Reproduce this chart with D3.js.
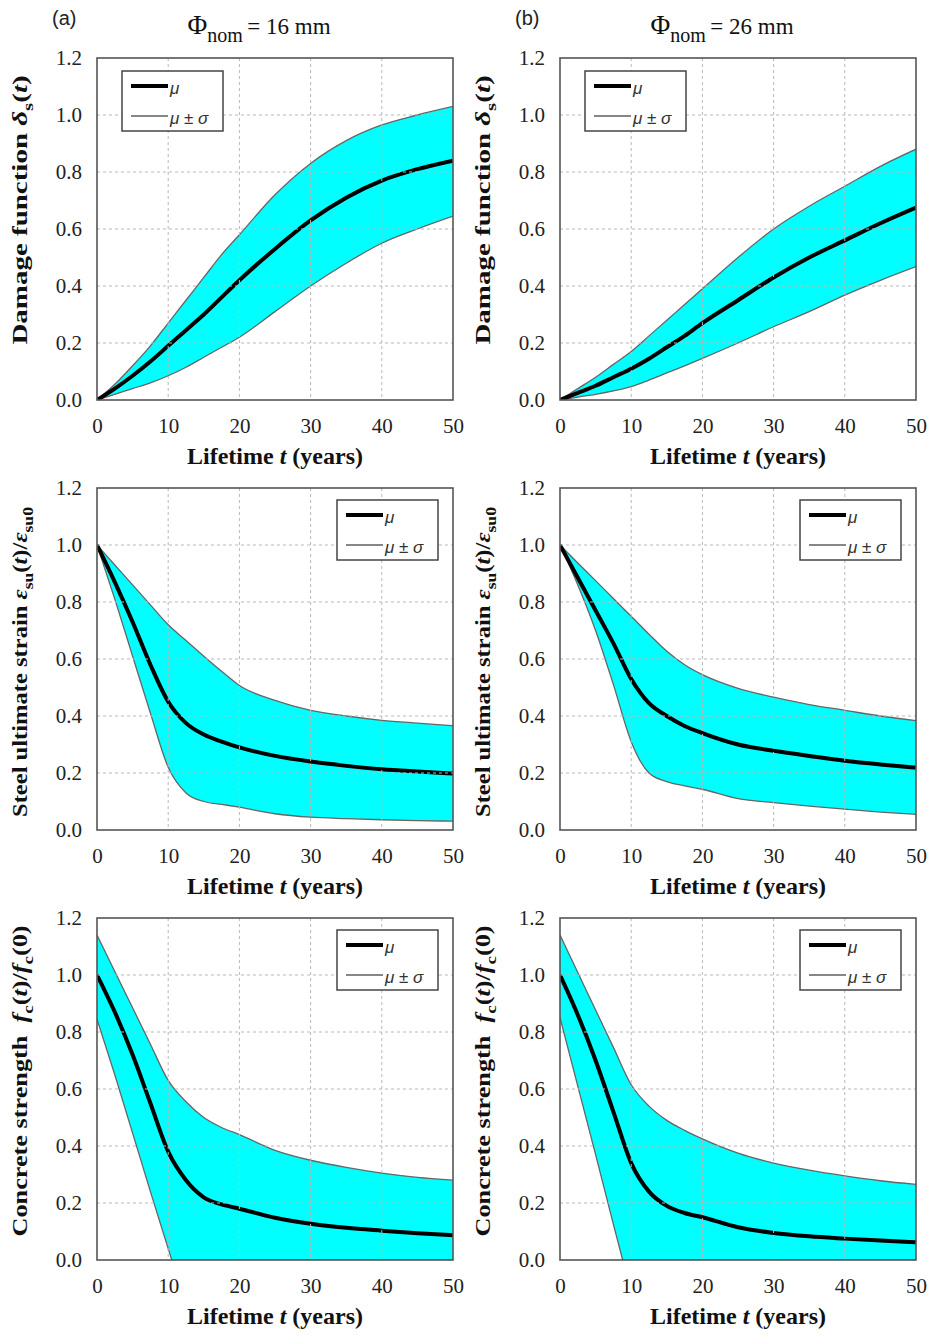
<!DOCTYPE html>
<html>
<head>
<meta charset="utf-8">
<script src="https://cdn.jsdelivr.net/npm/d3@7/dist/d3.min.js"></script>
<style>
  body { margin: 0; background: #fff; }
  svg { display: block; }
</style>
</head>
<body>
<svg id="chart" width="931" height="1336"></svg>
<script>
// ---- data ----
var years = [0, 2.5, 5, 7.5, 10, 12.5, 15, 17.5, 20, 25, 30, 35, 40, 45, 50];

// damage function, 16 mm / 26 mm
var dmg16Mean  = [0, 0.04, 0.085, 0.135, 0.19, 0.245, 0.30, 0.36, 0.42, 0.53, 0.63, 0.71, 0.77, 0.81, 0.84];
var dmg16Upper = [0, 0.055, 0.12, 0.19, 0.27, 0.35, 0.43, 0.51, 0.58, 0.72, 0.83, 0.91, 0.965, 1.00, 1.03];
var dmg16Lower = [0, 0.02, 0.04, 0.06, 0.085, 0.115, 0.15, 0.185, 0.22, 0.31, 0.40, 0.48, 0.55, 0.60, 0.645];
var dmg26Mean  = [0, 0.025, 0.05, 0.08, 0.11, 0.145, 0.185, 0.225, 0.27, 0.35, 0.43, 0.50, 0.56, 0.62, 0.675];
var dmg26Upper = [0, 0.04, 0.08, 0.125, 0.17, 0.225, 0.28, 0.335, 0.39, 0.50, 0.60, 0.68, 0.75, 0.82, 0.88];
var dmg26Lower = [0, 0.01, 0.02, 0.032, 0.047, 0.07, 0.095, 0.12, 0.146, 0.20, 0.257, 0.31, 0.368, 0.42, 0.468];

// steel ultimate strain ratio
var str16Mean  = [1.0, 0.87, 0.73, 0.58, 0.45, 0.375, 0.335, 0.31, 0.29, 0.26, 0.24, 0.225, 0.213, 0.205, 0.198];
var str16Upper = [1.0, 0.93, 0.86, 0.79, 0.72, 0.665, 0.61, 0.557, 0.507, 0.455, 0.42, 0.40, 0.385, 0.375, 0.366];
var str16Lower = [1.0, 0.81, 0.61, 0.41, 0.22, 0.13, 0.10, 0.09, 0.08, 0.057, 0.045, 0.04, 0.036, 0.033, 0.031];
var str26Mean  = [1.0, 0.885, 0.77, 0.655, 0.53, 0.445, 0.40, 0.365, 0.34, 0.30, 0.278, 0.26, 0.243, 0.23, 0.219];
var str26Upper = [1.0, 0.937, 0.875, 0.812, 0.75, 0.687, 0.627, 0.58, 0.545, 0.497, 0.466, 0.44, 0.42, 0.40, 0.384];
var str26Lower = [1.0, 0.86, 0.70, 0.51, 0.31, 0.20, 0.17, 0.155, 0.143, 0.11, 0.096, 0.084, 0.073, 0.063, 0.055];

// concrete strength ratio (lower bound drops to zero, own time points)
var conc16Mean  = [1.0, 0.87, 0.72, 0.55, 0.38, 0.28, 0.22, 0.195, 0.18, 0.148, 0.127, 0.113, 0.103, 0.094, 0.087];
var conc16Upper = [1.14, 1.012, 0.885, 0.757, 0.63, 0.555, 0.50, 0.465, 0.44, 0.385, 0.35, 0.325, 0.305, 0.29, 0.28];
var conc16LowerYears = [0, 2.5, 5, 7.5, 10.5, 50];
var conc16Lower = [0.845, 0.65, 0.445, 0.24, 0, 0];
var conc26Mean  = [1.0, 0.86, 0.70, 0.52, 0.34, 0.24, 0.19, 0.165, 0.15, 0.115, 0.095, 0.083, 0.075, 0.068, 0.062];
var conc26Upper = [1.14, 1.009, 0.877, 0.746, 0.615, 0.54, 0.49, 0.455, 0.425, 0.375, 0.34, 0.315, 0.295, 0.278, 0.265];
var conc26LowerYears = [0, 2.5, 5, 7.5, 8.8, 50];
var conc26Lower = [0.85, 0.61, 0.37, 0.125, 0, 0];

var xTicks = [0, 10, 20, 30, 40, 50];
var yTicks = [0, 0.2, 0.4, 0.6, 0.8, 1.0, 1.2];
var columnTags = ["(a)", "(b)"];
var columnSizes = ["16 mm", "26 mm"];

// ---- layout ----
var svg = d3.select("#chart");
var colX = [97, 560];
var rowY = [58, 488, 918];
var pw = 356, ph = 342;
var serif = "'Liberation Serif', 'Times New Roman', serif";
var sans = "'Liberation Sans', Arial, sans-serif";

var yTitles = [
  [{t: "Damage function "}, {t: "δ", i: 1}, {t: "s", sub: 1}, {t: "("}, {t: "t", i: 1}, {t: ")"}],
  [{t: "Steel ultimate strain "}, {t: "ε", i: 1}, {t: "su", sub: 1}, {t: "("}, {t: "t", i: 1}, {t: ")/"},
   {t: "ε", i: 1}, {t: "su0", sub: 1}],
  [{t: "Concrete strength\u00a0\u00a0"}, {t: "f", i: 1}, {t: "c", sub: 1}, {t: "("}, {t: "t", i: 1}, {t: ")/"},
   {t: "f", i: 1}, {t: "c", sub: 1}, {t: "(0)"}]
];
var yTitleShift = [-19, 3, -8];
var yTitleStretch = [1.38, 1.17, 1.25];

var panels = [
  {row: 0, col: 0, mean: dmg16Mean, upper: dmg16Upper, lower: dmg16Lower, lowerYears: years, legend: "left"},
  {row: 0, col: 1, mean: dmg26Mean, upper: dmg26Upper, lower: dmg26Lower, lowerYears: years, legend: "left"},
  {row: 1, col: 0, mean: str16Mean, upper: str16Upper, lower: str16Lower, lowerYears: years, legend: "right"},
  {row: 1, col: 1, mean: str26Mean, upper: str26Upper, lower: str26Lower, lowerYears: years, legend: "right"},
  {row: 2, col: 0, mean: conc16Mean, upper: conc16Upper, lower: conc16Lower, lowerYears: conc16LowerYears, legend: "right", linear: true},
  {row: 2, col: 1, mean: conc26Mean, upper: conc26Upper, lower: conc26Lower, lowerYears: conc26LowerYears, legend: "right", linear: true}
];

function addParts(text, parts, size) {
  var down = false, shift = size * 0.28;
  parts.forEach(function(p) {
    var ts = text.append("tspan").text(p.t);
    if (p.i) ts.attr("font-style", "italic");
    if (p.sub) {
      ts.attr("font-size", size * 0.72);
      if (!down) { ts.attr("dy", shift); down = true; }
    } else if (down) {
      ts.attr("dy", -shift); down = false;
    }
  });
}

// column headers
columnTags.forEach(function(tag, c) {
  svg.append("text").attr("x", colX[c] - 45).attr("y", 25)
    .attr("font-family", sans).attr("font-size", 20).attr("fill", "#222").text(tag);
  var t = svg.append("text").attr("x", colX[c] + pw / 2 - 16).attr("y", 34)
    .attr("text-anchor", "middle").attr("font-family", serif).attr("font-size", 23).attr("fill", "#111");
  t.append("tspan").attr("font-size", 27).text("Φ");
  t.append("tspan").attr("font-size", 20).attr("dy", 8).text("nom");
  t.append("tspan").attr("dy", -8).text("\u2009= " + columnSizes[c]);
});

panels.forEach(function(p, idx) {
  var x0 = colX[p.col], y0 = rowY[p.row];
  var g = svg.append("g").attr("transform", "translate(" + x0 + "," + y0 + ")");
  var x = d3.scaleLinear().domain([0, 50]).range([0, pw]);
  var y = d3.scaleLinear().domain([0, 1.2]).range([ph, 0]);

  var clipId = "clip" + idx;
  g.append("clipPath").attr("id", clipId).append("rect").attr("width", pw).attr("height", ph);
  var plot = g.append("g").attr("clip-path", "url(#" + clipId + ")");

  var up = years.map(function(t, i) { return [t, p.upper[i]]; });
  var mu = years.map(function(t, i) { return [t, p.mean[i]]; });
  var lo = p.lowerYears.map(function(t, i) { return [t, p.lower[i]]; });
  var smooth = d3.curveMonotoneX;
  var loCurve = p.linear ? d3.curveLinear : smooth;

  // band: cyan under the upper bound, then white under the lower bound
  plot.append("path").datum(up)
    .attr("d", d3.area().x(function(d) { return x(d[0]); }).y0(y(0)).y1(function(d) { return y(d[1]); }).curve(smooth))
    .attr("fill", "#00ffff");
  plot.append("path").datum(lo)
    .attr("d", d3.area().x(function(d) { return x(d[0]); }).y0(y(0) + 2).y1(function(d) { return y(d[1]); }).curve(loCurve))
    .attr("fill", "#fff");

  // grid
  var grid = g.append("g").attr("stroke", "#b8b8b8").attr("stroke-width", 1).attr("stroke-dasharray", "3,3");
  grid.selectAll(".gx").data(xTicks.slice(1, -1)).enter().append("line")
    .attr("x1", function(d) { return x(d); }).attr("x2", function(d) { return x(d); })
    .attr("y1", 0).attr("y2", ph);
  grid.selectAll(".gy").data(yTicks.slice(1, -1)).enter().append("line")
    .attr("y1", function(d) { return y(d); }).attr("y2", function(d) { return y(d); })
    .attr("x1", 0).attr("x2", pw);

  // curves
  var line = d3.line().x(function(d) { return x(d[0]); }).y(function(d) { return y(d[1]); });
  plot.append("path").datum(up).attr("d", line.curve(smooth)).attr("fill", "none")
    .attr("stroke", "#666").attr("stroke-width", 1.3);
  plot.append("path").datum(lo).attr("d", line.curve(loCurve)).attr("fill", "none")
    .attr("stroke", "#666").attr("stroke-width", 1.3);
  plot.append("path").datum(mu).attr("d", line.curve(smooth)).attr("fill", "none")
    .attr("stroke", "#000").attr("stroke-width", 4);

  // frame
  g.append("rect").attr("width", pw).attr("height", ph).attr("fill", "none")
    .attr("stroke", "#555").attr("stroke-width", 1.6);

  // axes (labels only)
  var xa = g.append("g").attr("transform", "translate(0," + ph + ")")
    .call(d3.axisBottom(x).tickValues(xTicks).tickSize(0).tickPadding(18).tickFormat(d3.format("d")));
  var ya = g.append("g")
    .call(d3.axisLeft(y).tickValues(yTicks).tickSize(0).tickPadding(15).tickFormat(d3.format(".1f")));
  [xa, ya].forEach(function(a) {
    a.select(".domain").remove();
    a.selectAll("text").attr("font-family", serif).attr("font-size", 21).attr("fill", "#222");
  });

  // x title
  var xt = g.append("text").attr("x", pw / 2).attr("y", ph + 64).attr("text-anchor", "middle")
    .attr("font-family", serif).attr("font-size", 24).attr("font-weight", "bold").attr("fill", "#111");
  xt.append("tspan").text("Lifetime ");
  xt.append("tspan").attr("font-style", "italic").text("t");
  xt.append("tspan").text(" (years)");

  // y title
  var yt = g.append("text")
    .attr("transform", "translate(-70," + (ph / 2 + yTitleShift[p.row]) + ") rotate(-90) scale(" +
      yTitleStretch[p.row] + ",1)")
    .attr("text-anchor", "middle").attr("font-family", serif).attr("font-size", 21)
    .attr("font-weight", "bold").attr("fill", "#111");
  addParts(yt, yTitles[p.row], 21);

  // legend
  var lx = p.legend === "left" ? 25 : 240;
  var ly = p.legend === "left" ? 13 : 12;
  var lg = g.append("g").attr("transform", "translate(" + lx + "," + ly + ")");
  lg.append("rect").attr("width", 101).attr("height", 60).attr("fill", "#fff")
    .attr("stroke", "#444").attr("stroke-width", 1.5);
  lg.append("line").attr("x1", 9).attr("x2", 46).attr("y1", 15).attr("y2", 15)
    .attr("stroke", "#000").attr("stroke-width", 4);
  lg.append("line").attr("x1", 9).attr("x2", 46).attr("y1", 45).attr("y2", 45)
    .attr("stroke", "#111").attr("stroke-width", 1.2);
  lg.append("text").attr("x", 48).attr("y", 23).attr("font-family", sans).attr("font-style", "italic")
    .attr("font-size", 17).attr("fill", "#333").text("μ");
  lg.append("text").attr("x", 48).attr("y", 53).attr("font-family", sans).attr("font-style", "italic")
    .attr("font-size", 17).attr("fill", "#333").text("μ ± σ");
});
</script>
</body>
</html>
